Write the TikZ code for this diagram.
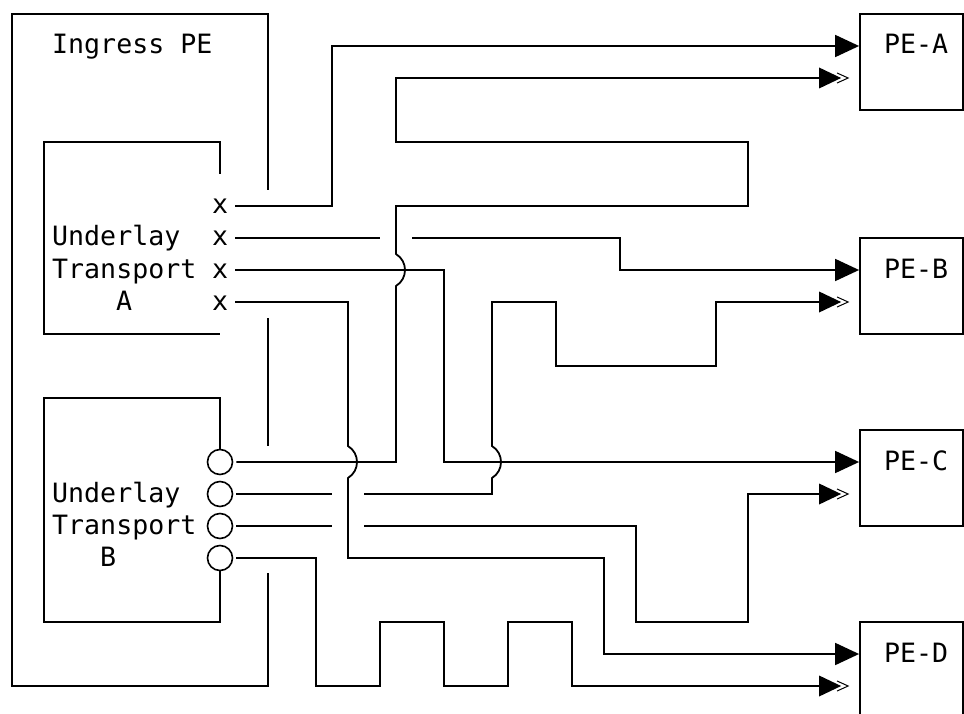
\documentclass[tikz,border=0pt]{standalone}
\usepackage{fontspec}
\newfontfamily\diagmono{DejaVu Sans Mono}
\usetikzlibrary{arrows.meta}
\begin{document}
\begin{tikzpicture}[x=1pt,y=-1pt,
  wire/.style={line width=1.8pt},
  txt/.style={font=\diagmono\fontsize{26.6}{30}\selectfont, inner sep=0pt, anchor=base west},
  pebox/.style={draw, line width=1.8pt, minimum width=103pt, minimum height=96pt, inner sep=0pt},
  port/.style={circle, draw, line width=1.6pt, minimum size=25pt, inner sep=0pt},
  sgl/.style={-{Triangle[length=24pt,width=22pt]}},
  dbl/.style={shorten >=20pt},
  dblhead/.pic={
    \fill (-40,-10.5) -- (-18,0) -- (-40,10.5) -- cycle;
    \draw[line width=1pt] (-22,-5) -- (-11,0) -- (-22,5);}
]
\useasboundingbox (0,0) rectangle (964,714);

% Ingress PE outline
\draw[wire] (268,190) -- (268,14) -- (12,14) -- (12,686) -- (268,686) -- (268,573);
\draw[wire] (268,318) -- (268,446);
\node[txt] (ing) at (52,54) {Ingress PE};

% Underlay Transport A
\draw[wire] (220,174) -- (220,142) -- (44,142) -- (44,334) -- (220,334);
\node[txt] (ula) at (52,246) {Underlay};
\node[txt] (tra) at (52,278) {Transport};
\node[txt] (lba) at (116,310) {A};
\node[txt] (xa1) at (212,214) {x};
\node[txt] (xa2) at (212,246) {x};
\node[txt] (xa3) at (212,278) {x};
\node[txt] (xa4) at (212,310) {x};
\coordinate (a1) at (235,206);
\coordinate (a2) at (235,238);
\coordinate (a3) at (235,270);
\coordinate (a4) at (235,302);

% Underlay Transport B
\node[port] (pb1) at (220,462) {};
\node[port] (pb2) at (220,494) {};
\node[port] (pb3) at (220,526) {};
\node[port] (pb4) at (220,558) {};
\draw[wire] (pb1.north) -- (220,398) -- (44,398) -- (44,622) -- (220,622) -- (pb4.south);
\node[txt] (ulb) at (52,502) {Underlay};
\node[txt] (trb) at (52,534) {Transport};
\node[txt] (lbb) at (100,566) {B};

% Egress PEs
\node[pebox] (pea) at (911.5,62) {};
\node[pebox] (peb) at (911.5,286) {};
\node[pebox] (pec) at (911.5,478) {};
\node[pebox] (ped) at (911.5,670) {};
\node[txt] at (884,54) {PE-A};
\node[txt] at (884,278) {PE-B};
\node[txt] at (884,470) {PE-C};
\node[txt] at (884,662) {PE-D};

% Transport A connectors
\draw[wire,sgl] (a1) -- (332,206) -- (332,46) -- (pea.west |- 0,46);
\draw[wire] (a2) -- (380,238);
\draw[wire,sgl] (412,238) -- (620,238) -- (620,270) -- (peb.west |- 0,270);
\draw[wire,sgl] (a3) -- (444,270) -- (444,462) -- (pec.west |- 0,462);
\draw[wire,sgl] (a4) -- (348,302) -- (348,446)
   .. controls (360,453.3) and (360,470.7) .. (348,478)
   -- (348,558) -- (604,558) -- (604,654) -- (ped.west |- 0,654);

% Transport B connectors
\draw[wire,dbl,shorten <=3pt] (pb1.east) -- (396,462) -- (396,286)
   .. controls (408,278.7) and (408,261.3) .. (396,254)
   -- (396,206) -- (748,206) -- (748,142) -- (396,142) -- (396,78) -- (pea.west |- 0,78);
\pic at (pea.west |- 0,78) {dblhead};

\draw[wire,shorten <=3pt] (pb2.east) -- (332,494);
\draw[wire,dbl] (364,494) -- (492,494) -- (492,478)
   .. controls (504,470.7) and (504,453.3) .. (492,446)
   -- (492,302) -- (556,302) -- (556,366) -- (716,366) -- (716,302) -- (peb.west |- 0,302);
\pic at (peb.west |- 0,302) {dblhead};

\draw[wire,shorten <=3pt] (pb3.east) -- (332,526);
\draw[wire,dbl] (364,526) -- (636,526) -- (636,622) -- (748,622) -- (748,494) -- (pec.west |- 0,494);
\pic at (pec.west |- 0,494) {dblhead};

\draw[wire,dbl,shorten <=3pt] (pb4.east) -- (316,558) -- (316,686) -- (380,686) -- (380,622)
   -- (444,622) -- (444,686) -- (508,686) -- (508,622) -- (572,622) -- (572,686) -- (ped.west |- 0,686);
\pic at (ped.west |- 0,686) {dblhead};
\end{tikzpicture}
\end{document}
